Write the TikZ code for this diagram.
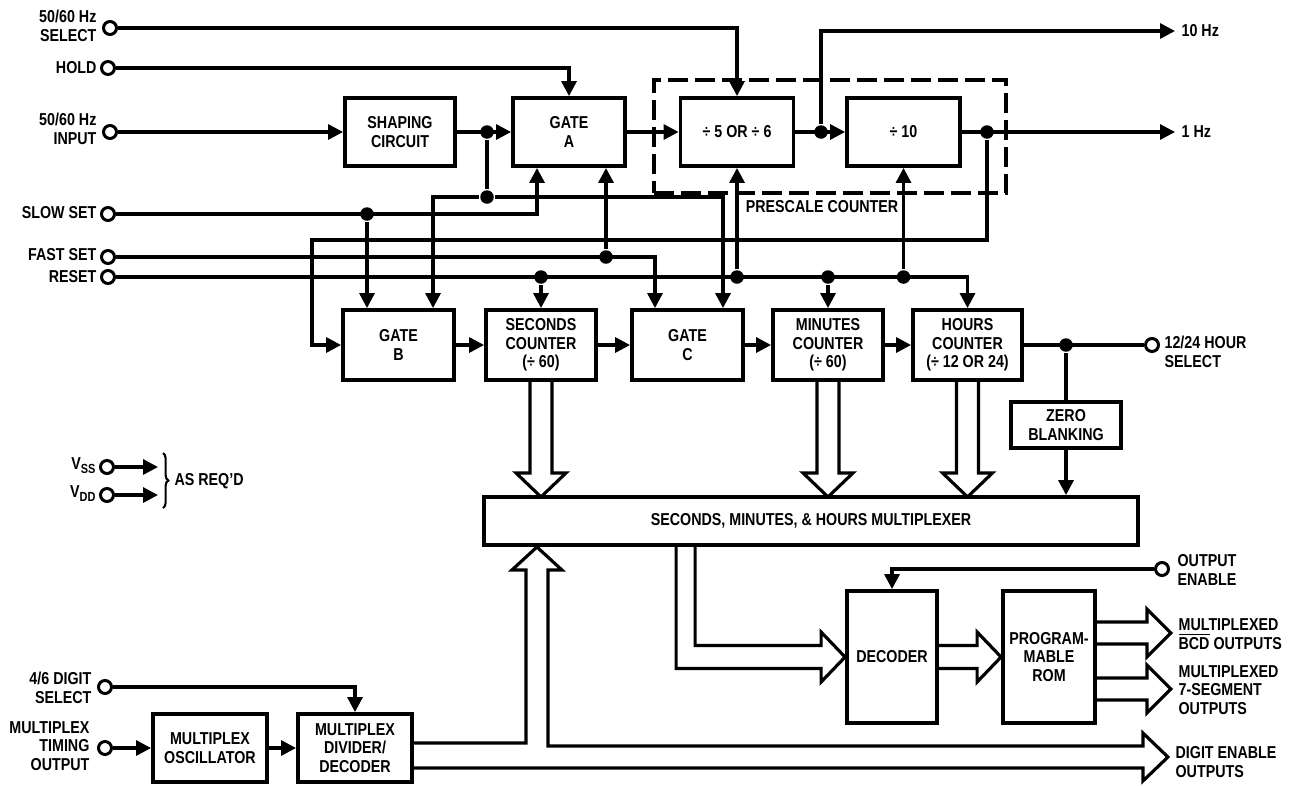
\documentclass[tikz,border=0pt]{standalone}
\usepackage{fontspec}
\setmainfont{Liberation Sans}[FakeStretch=0.83]
\usepackage{tikz}
\usetikzlibrary{arrows.meta}
\usetikzlibrary{decorations.pathreplacing}
\tikzset{>={Triangle[length=8.5pt,width=8.5pt]}}
\tikzset{
    block/.style={draw, line width=2.2pt, align=center, inner sep=1pt},
    prescale/.style={draw, dash pattern=on 0.4cm off 0.14cm,
        minimum width=7.04cm, minimum height=2.26cm},
    term/.style={circle, draw, fill=white, line width=1.7pt,
        inner sep=0pt, minimum size=0.26cm},
    jdot/.style={circle, fill, inner sep=0pt, minimum size=0.27cm},
    lbl/.style={align=right, inner sep=0pt, anchor=east},
    rlbl/.style={align=left, inner sep=0pt, anchor=west},
    bus/.style={line width=1.8pt, line join=miter}
}
\newcommand{\subtag}[1]{\raisebox{-0.45ex}{\fontsize{7.5}{8}\selectfont #1}}

\begin{document}
\begin{tikzpicture}[x=0.02cm, y=-0.02cm, line width=1.8pt,
    every node/.style={font=\bfseries\fontsize{9.8}{10.5}\selectfont}]
    \useasboundingbox (0,0) rectangle (1293,785);

    \node [term] (tSel) at (110,28) {};
    \node [term] (tHold) at (108,68) {};
    \node [term] (tIn) at (110,132) {};
    \node [term] (tSlow) at (108,214) {};
    \node [term] (tFast) at (108,257) {};
    \node [term] (tReset) at (108,277) {};
    \node [term] (tVss) at (107,467) {};
    \node [term] (tVdd) at (107,495) {};
    \node [term] (tDig) at (105,687) {};
    \node [term] (tTim) at (105,748) {};
    \node [term] (t1224) at (1152,345) {};
    \node [term] (tOE) at (1162,569) {};

    \node [lbl] (lSel) at (98,26) {50/60 Hz\\SELECT};
    \node [lbl] (lHold) at (98,68) {HOLD};
    \node [lbl] (lIn) at (98,129) {50/60 Hz\\INPUT};
    \node [lbl] (lSlow) at (98,213) {SLOW SET};
    \node [lbl] (lFast) at (98,255) {FAST SET};
    \node [lbl] (lReset) at (98,277) {RESET};
    \node [lbl] (lVss) at (97,466) {V\subtag{SS}};
    \node [lbl] (lVdd) at (97,494) {V\subtag{DD}};
    \node [lbl] (lDig) at (93,688) {4/6 DIGIT\\SELECT};
    \node [lbl] (lTim) at (91,746) {MULTIPLEX\\TIMING\\OUTPUT};
    \node [rlbl] (lReq) at (173,481) {AS REQ'D};
    \node [rlbl] (l10) at (1180,31) {10 Hz};
    \node [rlbl] (l1) at (1180,132) {1 Hz};
    \node [rlbl] (l1224) at (1163,352) {12/24 HOUR\\SELECT};
    \node [rlbl] (lOE) at (1176,570) {OUTPUT\\ENABLE};
    \node [rlbl] (lBcd) at (1177,634) {MULTIPLEXED\\$\overline{\mbox{BCD}}$ OUTPUTS};
    \node [rlbl] (lSeg) at (1177,690) {MULTIPLEXED\\7-SEGMENT\\OUTPUTS};
    \node [rlbl] (lDen) at (1174,762) {DIGIT ENABLE\\OUTPUTS};

    \node [block, minimum width=2.2cm, minimum height=1.36cm] (shape) at (400,132) {SHAPING\\CIRCUIT};
    \node [block, minimum width=2.24cm, minimum height=1.36cm] (gateA) at (569,132) {GATE\\A};
    \node [block, minimum width=2.26cm, minimum height=1.36cm] (div56) at (737,132) {÷ 5 OR ÷ 6};
    \node [block, minimum width=2.26cm, minimum height=1.36cm] (div10) at (903.5,132) {÷ 10};
    \node [prescale] (pre) at (830,136.5) {};
    \node (preLbl) at (822,207) {PRESCALE COUNTER};

    \node [block, minimum width=2.22cm, minimum height=1.4cm] (gateB) at (398.5,345) {GATE\\B};
    \node [block, minimum width=2.2cm, minimum height=1.4cm] (secs) at (541,345) {SECONDS\\COUNTER\\(÷ 60)};
    \node [block, minimum width=2.22cm, minimum height=1.4cm] (gateC) at (687.5,345) {GATE\\C};
    \node [block, minimum width=2.2cm, minimum height=1.4cm] (mins) at (828,345) {MINUTES\\COUNTER\\(÷ 60)};
    \node [block, minimum width=2.18cm, minimum height=1.4cm] (hours) at (967.5,345) {HOURS\\COUNTER\\(÷ 12 OR 24)};
    \node [block, minimum width=2.2cm, minimum height=0.92cm] (zero) at (1066,425) {ZERO\\BLANKING};
    \node [block, minimum width=13.08cm, minimum height=0.96cm] (mux) at (811,521) {SECONDS, MINUTES, \& HOURS MULTIPLEXER};
    \node [block, minimum width=1.8cm, minimum height=2.64cm] (decoder) at (892,657) {DECODER};
    \node [block, minimum width=1.84cm, minimum height=2.64cm] (rom) at (1049,657) {PROGRAM-\\MABLE\\ROM};
    \node [block, minimum width=2.28cm, minimum height=1.36cm] (osc) at (210,748) {MULTIPLEX\\OSCILLATOR};
    \node [block, minimum width=2.28cm, minimum height=1.36cm] (divdec) at (355,748) {MULTIPLEX\\DIVIDER/\\DECODER};

    \node [jdot] (j1) at (487,132) {};
    \node [jdot] (j2) at (487,197) {};
    \node [jdot] (jSlow) at (367,214) {};
    \node [jdot] (jFast) at (606,257) {};
    \node [jdot] (jR1) at (541,277) {};
    \node [jdot] (jR2) at (737,277) {};
    \node [jdot] (jR3) at (828,277) {};
    \node [jdot] (jR4) at (903.5,277) {};
    \node [jdot] (j10) at (821,132) {};
    \node [jdot] (j1Hz) at (987,132) {};
    \node [jdot] (jH) at (1066,345) {};

    \coordinate (kB) at (433,197);
    \coordinate (kC) at (723,197);
    \coordinate (kSlow) at (537,214);
    \coordinate (kFast) at (655,257);
    \coordinate (kF1) at (987,240);
    \coordinate (kF2) at (312,240);
    \coordinate (o10) at (1175,31);
    \coordinate (o1) at (1175,132);
    \coordinate (oVss) at (158,467);
    \coordinate (oVdd) at (158,495);
    \coordinate (bTop) at (163,453);
    \coordinate (bBot) at (163,508);

    \draw [->] (tSel) -| (div56);
    \draw [->] (tHold) -| (gateA);
    \draw [->] (tIn) -- (shape);
    \draw [->] (shape) -- (gateA);
    \draw (j1) -- (j2);
    \draw [->] (j2) -- (kB) -- (kB |- gateB.north);
    \draw [->] (j2) -- (kC) -- (kC |- gateC.north);
    \draw [->] (gateA) -- (div56);
    \draw [->] (div56) -- (div10);
    \draw [->] (j10) |- (o10);
    \draw [->] (div10) -- (o1);
    \draw [->] (j1Hz) -- (kF1) -- (kF2) |- (gateB.west);
    \draw [->] (tSlow) -- (kSlow) -- (kSlow |- gateA.south);
    \draw [->] (jSlow) -- (jSlow |- gateB.north);
    \draw [->] (tFast) -- (kFast) -- (kFast |- gateC.north);
    \draw [->] (jFast) -- (jFast |- gateA.south);
    \draw [->] (tReset) -| (hours);
    \draw [->] (jR1) -- (secs);
    \draw [->] (jR2) -- (div56);
    \draw [->] (jR3) -- (mins);
    \draw [->] (jR4) -- (div10);
    \draw [->] (gateB) -- (secs);
    \draw [->] (secs) -- (gateC);
    \draw [->] (gateC) -- (mins);
    \draw [->] (mins) -- (hours);
    \draw (hours) -- (t1224);
    \draw (jH) -- (zero);
    \draw [->] (zero) -- (zero |- mux.north);

    \draw [->] (tVss) -- (oVss);
    \draw [->] (tVdd) -- (oVdd);
    \draw [decorate, decoration={brace, amplitude=3pt}, line width=1.2pt] (bTop) -- (bBot);
    \draw [->] (tDig) -| (divdec);
    \draw [->] (tTim) -- (osc);
    \draw [->] (osc) -- (divdec);
    \draw [->] (tOE) -| (decoder);

    \draw [bus, shift={(secs.south)}] (-11,0) -- (-11,91) -- (-25,91) -- (0,115) -- (25,91) -- (11,91) -- (11,0);
    \draw [bus, shift={(mins.south)}] (-11,0) -- (-11,91) -- (-25,91) -- (0,115) -- (25,91) -- (11,91) -- (11,0);
    \draw [bus, shift={(hours.south)}] (-11,0) -- (-11,91) -- (-25,91) -- (0,115) -- (25,91) -- (11,91) -- (11,0);
    \draw [bus, shift={(decoder.west)}] (-169,-111) -- (-169,11.5) -- (-24,11.5) -- (-24,25) -- (0,0)
        -- (-24,-25) -- (-24,-11.5) -- (-150,-11.5) -- (-150,-111);
    \draw [bus, shift={(rom.west)}] (-63,-11.5) -- (-24,-11.5) -- (-24,-25) -- (0,0) -- (-24,25) -- (-24,11.5) -- (-63,11.5);
    \draw [bus, shift={(rom.east)}] (0,-35) -- (50,-35) -- (50,-48) -- (74,-24) -- (50,0) -- (50,-13) -- (0,-13);
    \draw [bus, shift={(rom.east)}] (0,21) -- (50,21) -- (50,8) -- (74,32) -- (50,56) -- (50,43) -- (0,43);
    \draw [bus, shift={(divdec.east)}] (0,-5) -- (112,-5) -- (112,-178) -- (98,-178) -- (123,-201) -- (148,-178)
        -- (134,-178) -- (134,-2) -- (729,-2) -- (729,-15) -- (754,9) -- (729,33) -- (729,20) -- (0,20);
\end{tikzpicture}
\end{document}
